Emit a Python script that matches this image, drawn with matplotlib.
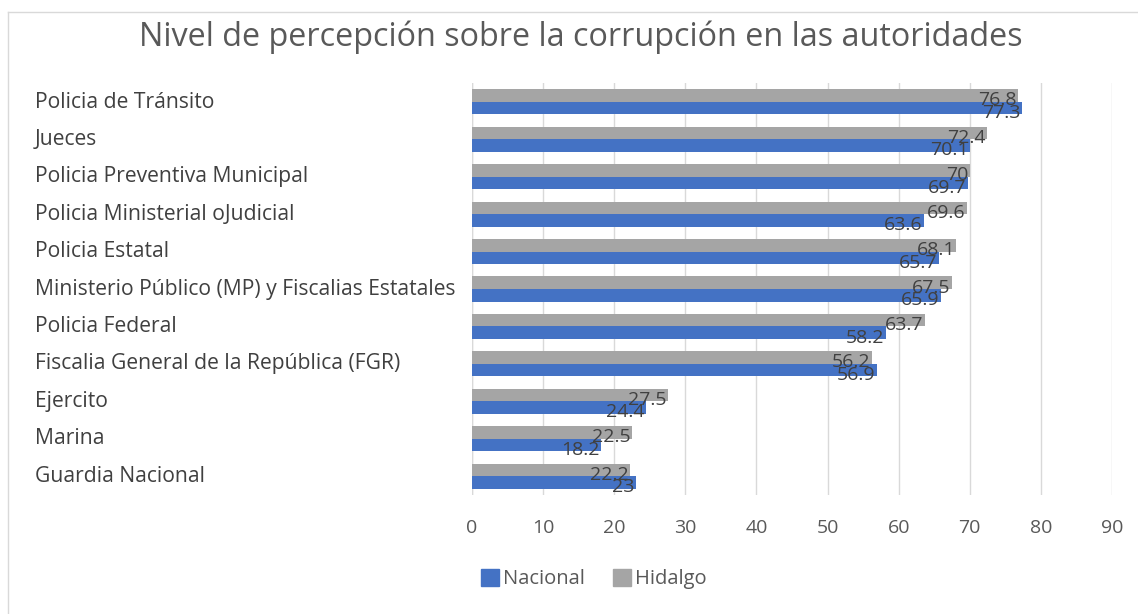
import matplotlib.pyplot as plt
from matplotlib.lines import Line2D
import numpy as np

categories = ["Policia de Tránsito", "Jueces", "Policia Preventiva Municipal",
              "Policia Ministerial oJudicial", "Policia Estatal",
              "Ministerio Público (MP) y Fiscalias Estatales", "Policia Federal",
              "Fiscalia General de la República (FGR)", "Ejercito", "Marina",
              "Guardia Nacional"]
nacional = [77.3, 70.1, 69.7, 63.6, 65.7, 65.9, 58.2, 56.9, 24.4, 18.2, 23]
hidalgo = [76.8, 72.4, 70, 69.6, 68.1, 67.5, 63.7, 56.2, 27.5, 22.5, 22.2]
nacional_lbl = ["77.3", "70.1", "69.7", "63.6", "65.7", "65.9", "58.2", "56.9", "24.4", "18.2", "23"]
hidalgo_lbl = ["76.8", "72.4", "70", "69.6", "68.1", "67.5", "63.7", "56.2", "27.5", "22.5", "22.2"]
ticks = [0, 10, 20, 30, 40, 50, 60, 70, 80, 90]

plt.rcParams['font.family'] = ['Open Sans', 'DejaVu Sans']
W, H = 1138, 614
fig = plt.figure(figsize=(W / 100, H / 100), dpi=100)
ax = fig.add_axes([472 / W, 1 - 495 / H, (1112 - 472) / W, (495 - 83) / H])

n = len(categories)
y = np.arange(n)
bh = 0.335
blue = '#4472C4'
gray = '#A5A5A5'
txt = '#404040'

ax.barh(y + bh / 2, nacional, height=bh, color=blue, label='Nacional', zorder=3)
ax.barh(y - bh / 2, hidalgo, height=bh, color=gray, label='Hidalgo', zorder=3)

for i in range(n):
    ax.annotate(hidalgo_lbl[i], (hidalgo[i], y[i] - bh / 2), xytext=(-1, -3.5),
                textcoords='offset points', ha='right', va='center',
                fontsize=14, color=txt, zorder=4)
    ax.annotate(nacional_lbl[i], (nacional[i], y[i] + bh / 2), xytext=(-1, -3.5),
                textcoords='offset points', ha='right', va='center',
                fontsize=14, color=txt, zorder=4)

ax.set_ylim(n - 0.5, -0.5)
ax.set_xlim(0, 90)
ax.set_xticks(ticks)
ax.set_xticklabels([str(t) for t in ticks])
ax.grid(axis='x', color='#D9D9D9', linewidth=1, zorder=0)
for s in ax.spines.values():
    s.set_visible(False)
ax.axvline(0, color='#D9D9D9', linewidth=1, zorder=1)
ax.tick_params(axis='x', length=0, labelsize=14, labelcolor='#595959', pad=17)
ax.tick_params(axis='y', length=0)
ax.set_yticks(y)
ax.set_yticklabels([])

for i, c in enumerate(categories):
    fig.text(35 / W, 1 - (102 + i * 37.4) / H, c, ha='left', va='center',
             fontsize=15.2, color=txt)

fig.text(581 / W, 1 - 37 / H, "Nivel de percepción sobre la corrupción en las autoridades",
         ha='center', va='center', fontsize=23.3, color='#595959')

handles = [plt.Rectangle((0, 0), 1, 1, color=blue), plt.Rectangle((0, 0), 1, 1, color=gray)]
fig.legend(handles, ['Nacional', 'Hidalgo'], loc='center', bbox_to_anchor=(594 / W, 1 - 579 / H),
           ncol=2, frameon=False, fontsize=14.5, handlelength=0.9, handleheight=0.9,
           handletextpad=0.2, columnspacing=1.4, labelcolor='#595959')

fig.add_artist(Line2D([8 / W, 1], [1 - 12 / H, 1 - 12 / H], color='#D9D9D9', linewidth=1))
fig.add_artist(Line2D([8 / W, 8 / W], [0, 1 - 12 / H], color='#D9D9D9', linewidth=1))

fig.savefig('out.png', dpi=100)
